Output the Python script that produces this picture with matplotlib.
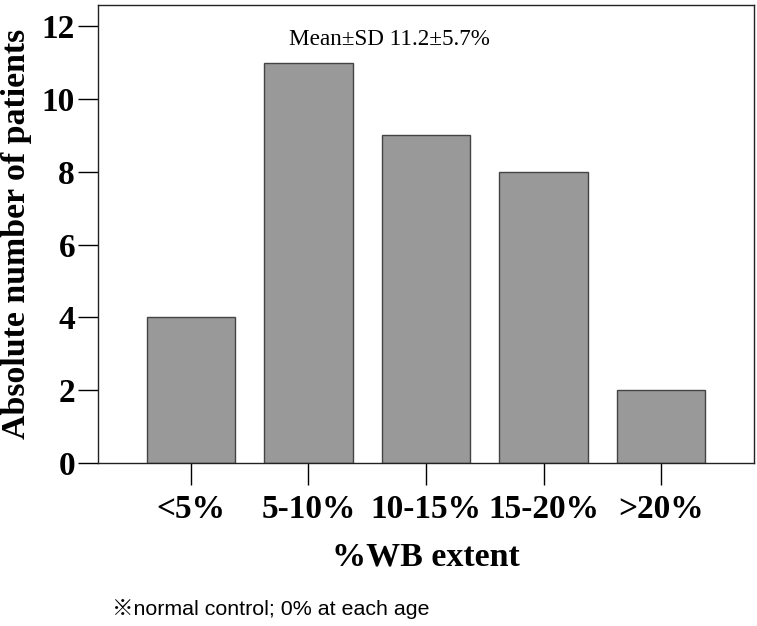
import matplotlib
matplotlib.use('Agg')
import matplotlib.pyplot as plt

categories = ['<5%', '5-10%', '10-15%', '15-20%', '>20%']
patients = [4, 11, 9, 8, 2]
y_ticks = [0, 2, 4, 6, 8, 10, 12]

serif = ['Liberation Serif', 'DejaVu Serif']

fig = plt.figure(figsize=(7.57, 6.26), dpi=100)
ax = fig.add_axes([0.1295, 0.2604, 0.8665, 0.7316])

x = range(len(categories))
ax.bar(x, patients, width=0.75, color='#999999', edgecolor='#444444', linewidth=1.0)

ax.set_xlim(-0.79, 4.79)
ax.set_ylim(0, 12.58)
ax.set_xticks(list(x))
ax.set_xticklabels(categories, family=serif, fontsize=24, fontweight='bold')
ax.set_yticks(y_ticks)
ax.set_yticklabels([str(t) for t in y_ticks], family=serif, fontsize=24, fontweight='bold')
ax.tick_params(axis='x', length=16, width=1, direction='out', pad=6)
ax.tick_params(axis='y', length=14.5, width=1, direction='out', pad=2)
for s in ax.spines.values():
    s.set_linewidth(1)
    s.set_color('#222222')

ax.set_ylabel('Absolute number of patients', family=serif, fontsize=24.4,
              fontweight='bold')
ax.yaxis.set_label_coords(-0.1, 0.5)
ax.set_xlabel('%WB extent', family=serif, fontsize=24.5, fontweight='bold', labelpad=12)

ax.text(0.445, 0.925, 'Mean±SD 11.2±5.7%', transform=ax.transAxes, ha='center',
        va='center', family=serif, fontsize=16.7)

fig.text(112 / 757, 1 - 609 / 626, '※normal control; 0% at each age',
         family=['Liberation Sans', 'Noto Sans CJK JP'], fontsize=15.4, va='center', ha='left')

fig.savefig('out.png', dpi=100)
